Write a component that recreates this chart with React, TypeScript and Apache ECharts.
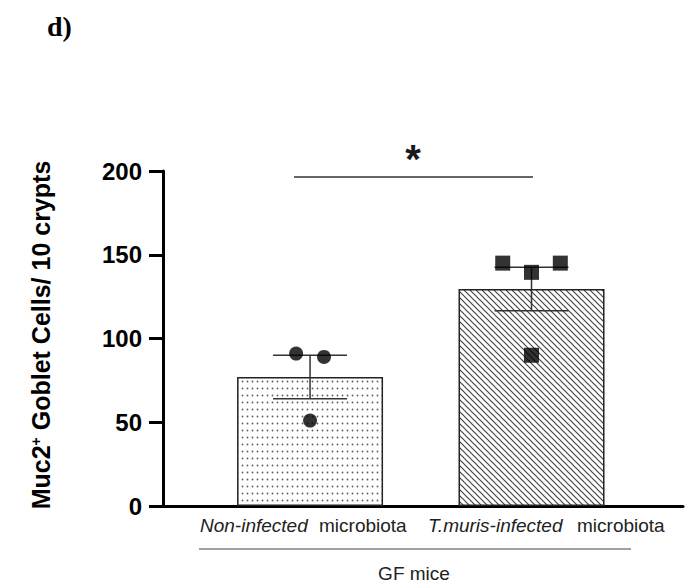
import React, { useEffect, useRef } from "react";
import * as echarts from "echarts";

// Groups and summary statistics
const categories = ["Non-infected microbiota", "T.muris-infected microbiota"];
const barPositions = [1, 2];
const meanValues = [77, 129.5];
const sdValues = [13, 13];

// Individual animals
const nonInfectedPoints = [91, 89, 51];
const nonInfectedJitter = [-0.063, 0.063, 0];
const tMurisPoints = [145, 139.5, 145, 90];
const tMurisJitter = [-0.13, 0, 0.13, 0];

const yTicks = [0, 50, 100, 150, 200];

function makeDotPattern(): HTMLCanvasElement {
  const c = document.createElement("canvas");
  c.width = 5;
  c.height = 7;
  const ctx = c.getContext("2d")!;
  ctx.fillStyle = "#ffffff";
  ctx.fillRect(0, 0, 5, 7);
  ctx.fillStyle = "#5e5e5e";
  ctx.beginPath();
  ctx.arc(2.5, 3.5, 0.9, 0, Math.PI * 2);
  ctx.fill();
  return c;
}

function makeHatchPattern(): HTMLCanvasElement {
  const s = 6;
  const c = document.createElement("canvas");
  c.width = s;
  c.height = s;
  const ctx = c.getContext("2d")!;
  ctx.fillStyle = "#ffffff";
  ctx.fillRect(0, 0, s, s);
  ctx.strokeStyle = "#444444";
  ctx.lineWidth = 1.2;
  ctx.beginPath();
  ctx.moveTo(-1, -1);
  ctx.lineTo(s + 1, s + 1);
  ctx.moveTo(-1, s - 1);
  ctx.lineTo(1, s + 1);
  ctx.moveTo(s - 1, -1);
  ctx.lineTo(s + 1, 1);
  ctx.stroke();
  return c;
}

export default function App() {
  const ref = useRef<HTMLDivElement>(null);

  useEffect(() => {
    if (!ref.current) return;
    const chart = echarts.init(ref.current, undefined, { renderer: "svg" });
    const fills = [
      { image: makeDotPattern(), repeat: "repeat" },
      { image: makeHatchPattern(), repeat: "repeat" },
    ];
    const sans = "'Liberation Sans', Arial, sans-serif";

    chart.setOption({
      animation: false,
      backgroundColor: "#ffffff",
      grid: { left: 163, right: 8, top: 171, bottom: 81 },
      xAxis: {
        type: "value",
        min: 0.336,
        max: 2.684,
        axisLine: { show: true, lineStyle: { color: "#000", width: 3 } },
        axisTick: { show: false },
        axisLabel: { show: false },
        splitLine: { show: false },
      },
      yAxis: {
        type: "value",
        min: yTicks[0],
        max: yTicks[yTicks.length - 1],
        interval: 50,
        axisLine: { show: true, lineStyle: { color: "#000", width: 3 } },
        axisTick: { show: true, length: 14, lineStyle: { color: "#000", width: 3 } },
        axisLabel: {
          margin: 21,
          color: "#000",
          fontFamily: sans,
          fontWeight: "bold",
          fontSize: 24,
        },
        splitLine: { show: false },
      },
      series: [
        {
          type: "bar",
          barWidth: 146,
          z: 2,
          data: barPositions.map((x, i) => ({
            value: [x, meanValues[i]],
            name: categories[i],
            itemStyle: { color: fills[i], borderColor: "#222", borderWidth: 1.5 },
          })),
        },
        {
          type: "custom",
          z: 3,
          data: barPositions.map((x, i) => [x, meanValues[i], sdValues[i]]),
          renderItem: (params: any, api: any) => {
            const x = api.value(0);
            const m = api.value(1);
            const s = api.value(2);
            const top = api.coord([x, m + s]);
            const bot = api.coord([x, m - s]);
            const half = 37;
            const style = { stroke: "#333", lineWidth: 1.5 };
            return {
              type: "group",
              children: [
                { type: "line", shape: { x1: top[0], y1: top[1], x2: bot[0], y2: bot[1] }, style },
                { type: "line", shape: { x1: top[0] - half, y1: top[1], x2: top[0] + half, y2: top[1] }, style },
                { type: "line", shape: { x1: bot[0] - half, y1: bot[1], x2: bot[0] + half, y2: bot[1] }, style },
              ],
            };
          },
        },
        {
          type: "scatter",
          z: 4,
          symbol: "circle",
          symbolSize: 14,
          itemStyle: { color: "#000" },
          data: nonInfectedPoints.map((v, i) => [barPositions[0] + nonInfectedJitter[i], v]),
        },
        {
          type: "scatter",
          z: 4,
          symbol: "rect",
          symbolSize: 15,
          itemStyle: { color: "#000" },
          data: tMurisPoints.map((v, i) => [barPositions[1] + tMurisJitter[i], v]),
        },
      ],
      graphic: [
        {
          type: "text",
          left: 47,
          top: 12,
          style: {
            text: "d)",
            font: "bold 28px 'Liberation Serif', 'Times New Roman', serif",
            fill: "#000",
          },
        },
        {
          type: "text",
          x: 41,
          y: 335,
          rotation: Math.PI / 2,
          style: {
            text: "Muc2{sup|+} Goblet Cells/ 10 crypts",
            fontFamily: sans,
            fontWeight: "bold",
            fontSize: 25,
            fill: "#000",
            align: "center",
            verticalAlign: "middle",
            rich: {
              sup: { fontFamily: sans, fontWeight: "bold", fontSize: 14, verticalAlign: "top" },
            },
          },
        },
        {
          type: "line",
          shape: { x1: 294, y1: 177, x2: 533, y2: 177 },
          style: { stroke: "#333", lineWidth: 1.5 },
        },
        {
          type: "text",
          x: 413,
          y: 179,
          style: {
            text: "*",
            fontFamily: sans,
            fontWeight: "bold",
            fontSize: 40,
            fill: "#1a1a1a",
            align: "center",
            verticalAlign: "bottom",
          },
        },
        {
          type: "text",
          x: 200,
          y: 525,
          style: { text: "Non-infected", fontFamily: sans, fontStyle: "italic", fontSize: 19, fill: "#222", align: "left", verticalAlign: "middle" },
        },
        {
          type: "text",
          x: 319,
          y: 525,
          style: { text: "microbiota", fontFamily: sans, fontSize: 19, fill: "#222", align: "left", verticalAlign: "middle" },
        },
        {
          type: "text",
          x: 428,
          y: 525,
          style: { text: "T.muris-infected", fontFamily: sans, fontStyle: "italic", fontSize: 19, fill: "#222", align: "left", verticalAlign: "middle" },
        },
        {
          type: "text",
          x: 577,
          y: 525,
          style: { text: "microbiota", fontFamily: sans, fontSize: 19, fill: "#222", align: "left", verticalAlign: "middle" },
        },
        {
          type: "line",
          shape: { x1: 199, y1: 549, x2: 631, y2: 549 },
          style: { stroke: "#444", lineWidth: 1.2 },
        },
        {
          type: "text",
          x: 414,
          y: 573,
          style: { text: "GF mice", fontFamily: sans, fontSize: 19, fill: "#222", align: "center", verticalAlign: "middle" },
        },
      ],
    });

    return () => chart.dispose();
  }, []);

  return (
    <div
      ref={ref}
      style={{ position: "absolute", left: 0, top: 0, width: 691, height: 587 }}
    />
  );
}
